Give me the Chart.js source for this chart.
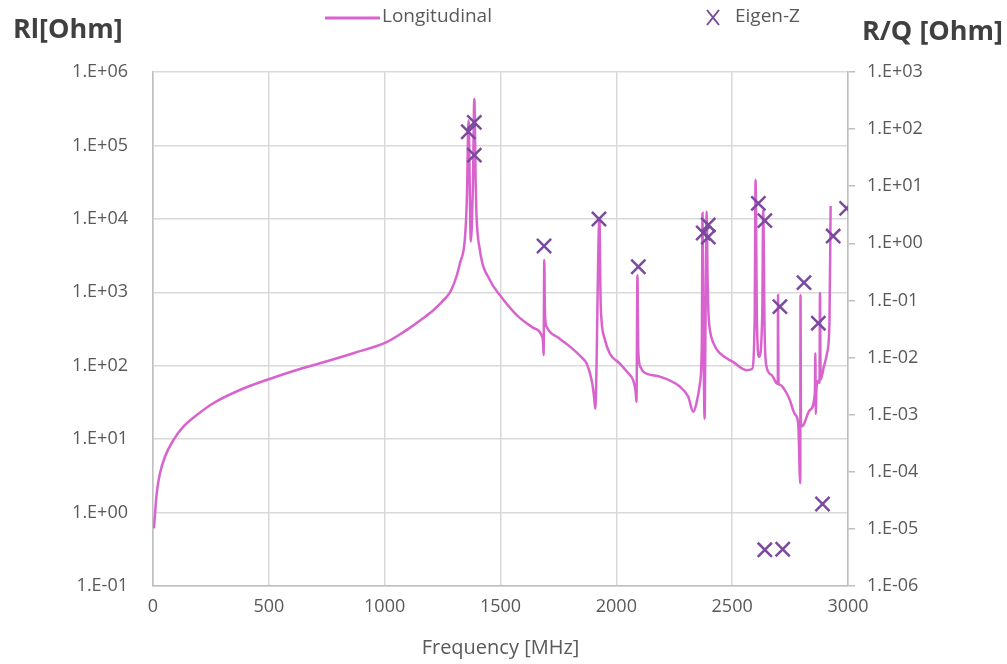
<!DOCTYPE html>
<html>
<head>
<meta charset="utf-8">
<script src="https://cdn.jsdelivr.net/npm/chart.js@4/dist/chart.umd.min.js"></script>
<style>
  html, body { margin: 0; padding: 0; background: #fff; }
</style>
</head>
<body>
<canvas id="rlChart" width="1007" height="664"></canvas>
<script>
// longitudinal impedance curve
const freqLong = [4, 9, 16, 30, 52, 88, 131, 189, 260, 375, 503, 620, 721, 865, 1004, 1060, 1110, 1160, 1210, 1250,
  1282, 1310, 1325, 1347, 1355, 1362, 1372, 1381, 1387, 1393, 1396, 1411, 1454, 1497, 1570, 1640,
  1677, 1684, 1686, 1689, 1692, 1699, 1750, 1800, 1850, 1872, 1895, 1905, 1909, 1927, 1932, 1936, 1950,
  1972, 2015, 2050, 2073, 2083, 2087, 2091, 2095, 2105, 2116, 2188, 2274, 2310, 2332, 2345, 2361, 2369,
  2372, 2376, 2381, 2385, 2390, 2394, 2398, 2404, 2420, 2447, 2505, 2562, 2585, 2597, 2601, 2607, 2616,
  2630, 2634, 2640, 2648, 2670, 2691, 2697, 2698, 2700, 2706, 2730, 2749, 2770, 2785, 2794, 2795, 2797,
  2807, 2836, 2857, 2859, 2861, 2864, 2871, 2877, 2879, 2882, 2895, 2910, 2920, 2925];
const rlLong = [0.61, 0.98, 1.83, 3.4, 5.8, 9.7, 14.8, 21.3, 30.8, 46.7, 66, 87.5, 108, 148, 206, 260, 330, 430, 570, 760,
  1000, 1650, 2480, 5700, 20000, 220000, 4900, 30000, 430000, 30000, 12000, 3770, 1470, 918, 490, 330,
  260, 200, 140, 2750, 500, 340, 240, 182, 130, 107, 60, 35, 26, 10000, 800, 417, 230,
  146, 107, 80, 63, 45, 32, 1700, 150, 95, 83, 71, 52, 38, 23.7, 30, 58, 200,
  12000, 300, 19, 400, 12600, 1500, 500, 306, 200, 148, 112, 87, 90, 400, 34000, 400, 132,
  500, 13000, 300, 98, 75, 58, 57, 920, 56, 55, 45, 34, 22, 16.4, 2.5, 920, 15,
  15.5, 25, 42, 148, 22, 50, 62, 58, 980, 65, 95, 150, 400, 15000];

// eigenmode R/Q values (right axis)
const freqEigen = [1361, 1387, 1387, 1688, 1925, 2095, 2375, 2397, 2397, 2613, 2641, 2706, 2810, 2872, 2936, 2994, 2890, 2641, 2718];
const rqEigen = [90, 131, 35, 0.9, 2.67, 0.39, 1.52, 2.1, 1.29, 5.0, 2.5, 0.078, 0.205, 0.04, 1.34, 4.1, 2.73e-5, 4.3e-6, 4.4e-6];

const freqTicks = [0, 500, 1000, 1500, 2000, 2500, 3000];
const rlTicks = [0.1, 1, 10, 100, 1000, 10000, 100000, 1000000];
const rqTicks = [1e-6, 1e-5, 1e-4, 1e-3, 1e-2, 1e-1, 1, 10, 100, 1000];

const lineColor = '#D963CE';
const markColor = '#7B4A9E';
const gridColor = '#D9D9D9';
const axisColor = '#BFBFBF';
const textColor = '#595959';

function expLabel(v) {
  let e = Math.round(Math.log10(v));
  return '1.E' + (e < 0 ? '-' : '+') + String(Math.abs(e)).padStart(2, '0');
}

Chart.defaults.font.family = '"Open Sans", sans-serif';
Chart.defaults.color = textColor;

// axis titles + legend drawn on top
const extraText = {
  id: 'extraText',
  afterDraw(chart) {
    let ctx = chart.ctx;
    ctx.save();
    ctx.fillStyle = '#404040';
    ctx.font = 'bold 27px "Open Sans"';
    ctx.textBaseline = 'middle';
    ctx.textAlign = 'left';
    ctx.fillText('Rl[Ohm]', 13, 30);
    ctx.textAlign = 'right';
    ctx.fillText('R/Q [Ohm]', 1003, 32);

    ctx.font = '19px "Open Sans"';
    ctx.fillStyle = textColor;
    ctx.textAlign = 'left';
    ctx.strokeStyle = lineColor;
    ctx.lineWidth = 3;
    ctx.beginPath();
    ctx.moveTo(325, 18);
    ctx.lineTo(380, 18);
    ctx.stroke();
    ctx.fillText('Longitudinal', 382, 17);

    ctx.strokeStyle = markColor;
    ctx.lineWidth = 2;
    ctx.beginPath();
    ctx.moveTo(707, 10); ctx.lineTo(719, 25);
    ctx.moveTo(719, 10); ctx.lineTo(707, 25);
    ctx.stroke();
    ctx.fillText('Eigen-Z', 735, 17);
    ctx.restore();
  }
};

let ctx = document.getElementById('rlChart').getContext('2d');
let chart = new Chart(ctx, {
  type: 'scatter',
  data: {
    datasets: [
      {
        label: 'Eigen-Z',
        data: freqEigen.map((f, i) => ({ x: f, y: rqEigen[i] })),
        yAxisID: 'y2',
        pointStyle: 'crossRot',
        pointRadius: 10,
        pointBorderWidth: 2.5,
        borderColor: markColor,
        backgroundColor: markColor,
        showLine: false,
        order: 1
      },
      {
        label: 'Longitudinal',
        data: freqLong.map((f, i) => ({ x: f, y: rlLong[i] })),
        yAxisID: 'y',
        showLine: true,
        pointRadius: 0,
        borderColor: lineColor,
        borderWidth: 2.5,
        cubicInterpolationMode: 'monotone',
        order: 2
      }
    ]
  },
  options: {
    responsive: false,
    animation: false,
    devicePixelRatio: 1,
    layout: { padding: { top: 72, left: 0, right: 0, bottom: 0 } },
    plugins: {
      legend: { display: false },
      tooltip: { enabled: false }
    },
    scales: {
      x: {
        type: 'linear',
        min: 0,
        max: 3000,
        afterBuildTicks: s => { s.ticks = freqTicks.map(v => ({ value: v })); },
        afterFit: s => { s.height = 78; },
        grid: { color: gridColor, lineWidth: 1.5, drawTicks: false },
        border: { color: axisColor, width: 1.5 },
        ticks: { padding: 10, font: { size: 18 }, color: textColor, maxRotation: 0, callback: v => String(v) },
        title: { display: true, text: 'Frequency [MHz]', font: { size: 20 }, color: textColor, padding: { top: 0, bottom: 4 } }
      },
      y: {
        type: 'logarithmic',
        position: 'left',
        min: 0.1,
        max: 1000000,
        afterBuildTicks: s => { s.ticks = rlTicks.map(v => ({ value: v })); },
        afterFit: s => { s.width = 153; },
        grid: { color: gridColor, lineWidth: 1.5, drawTicks: false },
        border: { color: axisColor, width: 1.5 },
        ticks: { padding: 25, autoSkip: false, font: { size: 18 }, color: textColor, callback: v => expLabel(v) }
      },
      y2: {
        type: 'logarithmic',
        position: 'right',
        min: 1e-6,
        max: 1000,
        afterBuildTicks: s => { s.ticks = rqTicks.map(v => ({ value: v })); },
        afterFit: s => { s.width = 1007 - 848; },
        grid: { drawOnChartArea: false, color: axisColor, lineWidth: 1.5, tickLength: 7 },
        border: { color: axisColor, width: 1.5 },
        ticks: { padding: 12, autoSkip: false, font: { size: 18 }, color: textColor, callback: v => expLabel(v) }
      }
    }
  },
  plugins: [extraText]
});
</script>
</body>
</html>
